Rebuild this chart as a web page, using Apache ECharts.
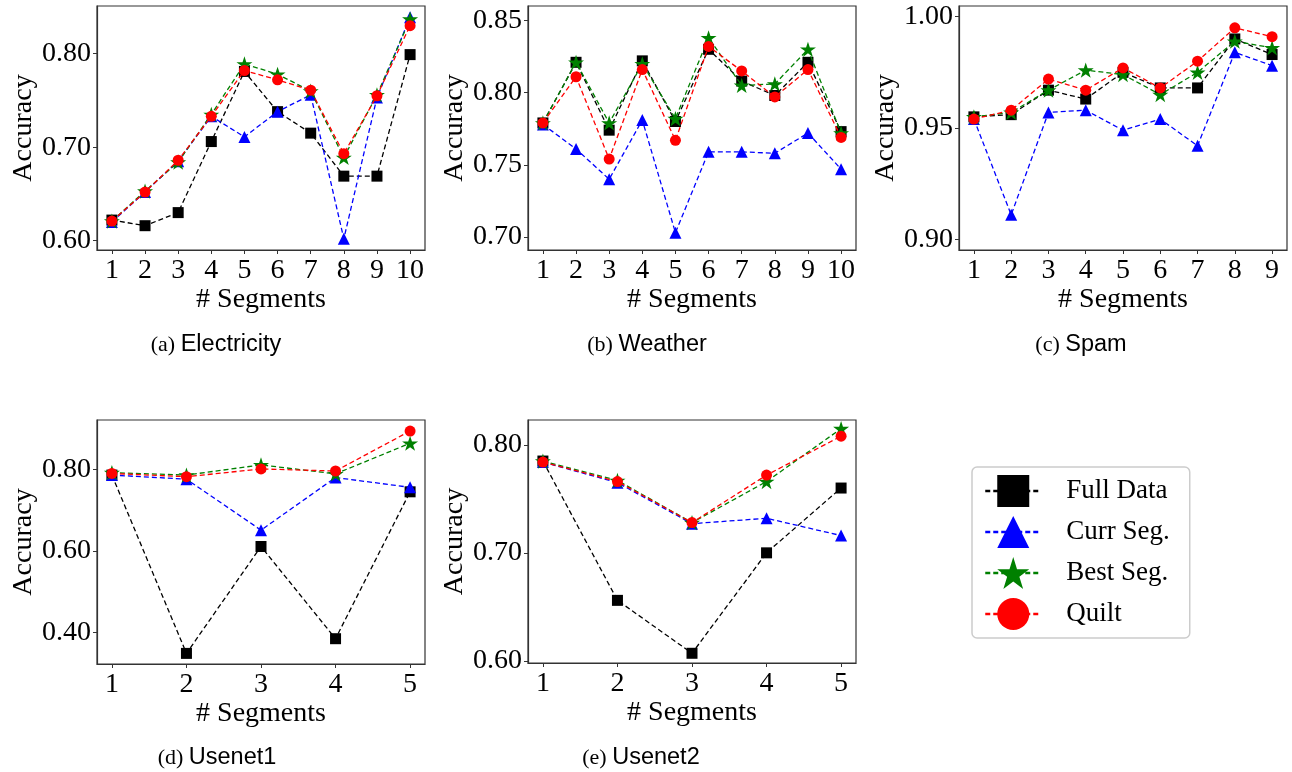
<!DOCTYPE html>
<html>
<head>
<meta charset="utf-8">
<script src="https://cdn.jsdelivr.net/npm/echarts@6/dist/echarts.min.js"></script>
<style>
html,body{margin:0;padding:0;background:#fff;}
#chart{width:1292px;height:772px;}
</style>
</head>
<body>
<div id="chart"></div>
<script>
// ---------- data ----------
const seriesNames = ['Full Data', 'Curr Seg.', 'Best Seg.', 'Quilt'];
const panelTitles = ['(a) |Electricity', '(b) |Weather', '(c) |Spam', '(d) |Usenet1', '(e) |Usenet2'];

const segElectricity = [1, 2, 3, 4, 5, 6, 7, 8, 9, 10];
const elecFull  = [0.622, 0.616, 0.630, 0.706, 0.781, 0.738, 0.715, 0.669, 0.669, 0.799];
const elecCurr  = [0.620, 0.652, 0.685, 0.733, 0.711, 0.738, 0.756, 0.602, 0.753, 0.839];
const elecBest  = [0.621, 0.653, 0.684, 0.735, 0.789, 0.778, 0.760, 0.689, 0.756, 0.837];
const elecQuilt = [0.621, 0.652, 0.686, 0.733, 0.782, 0.772, 0.761, 0.693, 0.755, 0.830];
const elecTicks = [0.60, 0.70, 0.80];

const segWeather = [1, 2, 3, 4, 5, 6, 7, 8, 9, 10];
const weatFull  = [0.779, 0.821, 0.774, 0.822, 0.780, 0.830, 0.808, 0.798, 0.821, 0.773];
const weatCurr  = [0.778, 0.761, 0.740, 0.781, 0.703, 0.759, 0.759, 0.758, 0.772, 0.747];
const weatBest  = [0.779, 0.821, 0.779, 0.820, 0.782, 0.838, 0.805, 0.806, 0.830, 0.772];
const weatQuilt = [0.779, 0.811, 0.754, 0.816, 0.767, 0.832, 0.815, 0.797, 0.816, 0.769];
const weatTicks = [0.70, 0.75, 0.80, 0.85];

const segSpam = [1, 2, 3, 4, 5, 6, 7, 8, 9];
const spamFull  = [0.955, 0.956, 0.967, 0.963, 0.975, 0.968, 0.968, 0.990, 0.983];
const spamCurr  = [0.954, 0.911, 0.957, 0.958, 0.949, 0.954, 0.942, 0.984, 0.978];
const spamBest  = [0.955, 0.957, 0.967, 0.976, 0.974, 0.965, 0.975, 0.989, 0.986];
const spamQuilt = [0.954, 0.958, 0.972, 0.967, 0.977, 0.968, 0.980, 0.995, 0.991];
const spamTicks = [0.90, 0.95, 1.00];

const segUsenet1 = [1, 2, 3, 4, 5];
const use1Full  = [0.786, 0.349, 0.611, 0.385, 0.745];
const use1Curr  = [0.786, 0.776, 0.651, 0.780, 0.756];
const use1Best  = [0.792, 0.786, 0.811, 0.789, 0.864];
const use1Quilt = [0.790, 0.782, 0.801, 0.796, 0.894];
const use1Ticks = [0.40, 0.60, 0.80];

const segUsenet2 = [1, 2, 3, 4, 5];
const use2Full  = [0.785, 0.656, 0.607, 0.700, 0.760];
const use2Curr  = [0.784, 0.765, 0.727, 0.732, 0.716];
const use2Best  = [0.785, 0.767, 0.728, 0.766, 0.815];
const use2Quilt = [0.784, 0.766, 0.728, 0.772, 0.808];
const use2Ticks = [0.60, 0.70, 0.80];

// ---------- layout / style ----------
const SERIF = '"Liberation Serif","Times New Roman",Times,serif';
const SANS = '"Liberation Sans",Arial,Helvetica,sans-serif';
const STAR = 'path://M100,0 L122.45,69.1 L195.1,69.1 L136.33,111.8 L158.8,180.9 L100,138.2 L41.2,180.9 L63.67,111.8 L4.9,69.1 L77.55,69.1 Z';

const panels = [
  {x: segElectricity, ys: [elecFull, elecCurr, elecBest, elecQuilt], ticks: elecTicks,
   grid: {left: 97, top: 6, width: 328, height: 244}, yr: [0.590, 0.851]},
  {x: segWeather, ys: [weatFull, weatCurr, weatBest, weatQuilt], ticks: weatTicks,
   grid: {left: 528, top: 6, width: 328, height: 244}, yr: [0.691, 0.860]},
  {x: segSpam, ys: [spamFull, spamCurr, spamBest, spamQuilt], ticks: spamTicks,
   grid: {left: 959, top: 6, width: 328, height: 244}, yr: [0.8952, 1.0048]},
  {x: segUsenet1, ys: [use1Full, use1Curr, use1Best, use1Quilt], ticks: use1Ticks,
   grid: {left: 97, top: 420, width: 328, height: 244}, yr: [0.323, 0.921]},
  {x: segUsenet2, ys: [use2Full, use2Curr, use2Best, use2Quilt], ticks: use2Ticks,
   grid: {left: 528, top: 420, width: 328, height: 243}, yr: [0.598, 0.823]}
];
const captionPos = [[216, 345], [647, 345], [1081, 345], [217, 758], [641, 758]];

const colors = ['#000000', '#0000ff', '#008000', '#ff0000'];
const symbols = ['rect', 'triangle', STAR, 'circle'];
const symSizes = [11, 12, 16, 11];

const grids = [], xAxes = [], yAxes = [], series = [], graphics = [];
panels.forEach((p, i) => {
  grids.push(Object.assign({show: true, borderColor: '#333', borderWidth: 1.2, backgroundColor: 'transparent'}, p.grid));
  const n = p.x.length;
  const margin = (p.x[n - 1] - p.x[0]) * 0.05;
  xAxes.push({
    type: 'value', gridIndex: i,
    min: p.x[0] - margin, max: p.x[n - 1] + margin,
    name: '# Segments', nameLocation: 'middle', nameGap: 36,
    nameTextStyle: {fontFamily: SERIF, fontSize: 28, color: '#000'},
    axisLine: {show: true, onZero: false, lineStyle: {color: '#333', width: 1.2}},
    axisTick: {show: true, length: 4, lineStyle: {color: '#333'}, customValues: p.x},
    axisLabel: {customValues: p.x, margin: 7, fontFamily: SERIF, fontSize: 28, color: '#000',
                formatter: v => String(Math.round(v))},
    splitLine: {show: false}
  });
  yAxes.push({
    type: 'value', gridIndex: i,
    min: p.yr[0], max: p.yr[1],
    name: 'Accuracy', nameLocation: 'middle', nameGap: 58,
    nameTextStyle: {fontFamily: SERIF, fontSize: 28, color: '#000'},
    axisLine: {show: true, onZero: false, lineStyle: {color: '#333', width: 1.2}},
    axisTick: {show: true, length: 4, lineStyle: {color: '#333'}, customValues: p.ticks},
    axisLabel: {customValues: p.ticks, margin: 6, fontFamily: SERIF, fontSize: 28, color: '#000',
                formatter: v => v.toFixed(2)},
    splitLine: {show: false}
  });
  seriesNames.forEach((name, k) => {
    series.push({
      type: 'line', name: name, xAxisIndex: i, yAxisIndex: i,
      data: p.x.map((xv, j) => [xv, p.ys[k][j]]),
      symbol: symbols[k], symbolSize: symSizes[k], symbolKeepAspect: true,
      showAllSymbol: true, animation: false, z: 2 + k,
      lineStyle: {color: colors[k], width: 1.3, type: [5, 3]},
      itemStyle: {color: colors[k], borderWidth: 0}
    });
  });
  const parts = panelTitles[i].split('|');
  graphics.push({
    type: 'text', x: captionPos[i][0], y: captionPos[i][1],
    style: {
      text: '{s|' + parts[0] + '}{t|' + parts[1] + '}',
      align: 'center', verticalAlign: 'middle',
      rich: {
        s: {fontFamily: SERIF, fontSize: 22, fill: '#000'},
        t: {fontFamily: SANS, fontSize: 23.5, fill: '#000'}
      }
    }
  });
});

const chart = echarts.init(document.getElementById('chart'), null, {renderer: 'canvas'});
chart.setOption({
  backgroundColor: '#fff',
  animation: false,
  grid: grids,
  xAxis: xAxes,
  yAxis: yAxes,
  series: series,
  graphic: graphics,
  legend: {
    show: true, orient: 'vertical', left: 972, top: 467,
    data: seriesNames,
    itemWidth: 56, itemHeight: 40, itemGap: 9,
    padding: [8, 20, 8, 12],
    borderColor: '#cccccc', borderWidth: 1.5, borderRadius: 5,
    backgroundColor: '#fff',
    lineStyle: {width: 2.5},
    textStyle: {fontFamily: SERIF, fontSize: 27, color: '#000', padding: [0, 0, 0, 20]},
    selectedMode: false
  }
});
</script>
</body>
</html>
